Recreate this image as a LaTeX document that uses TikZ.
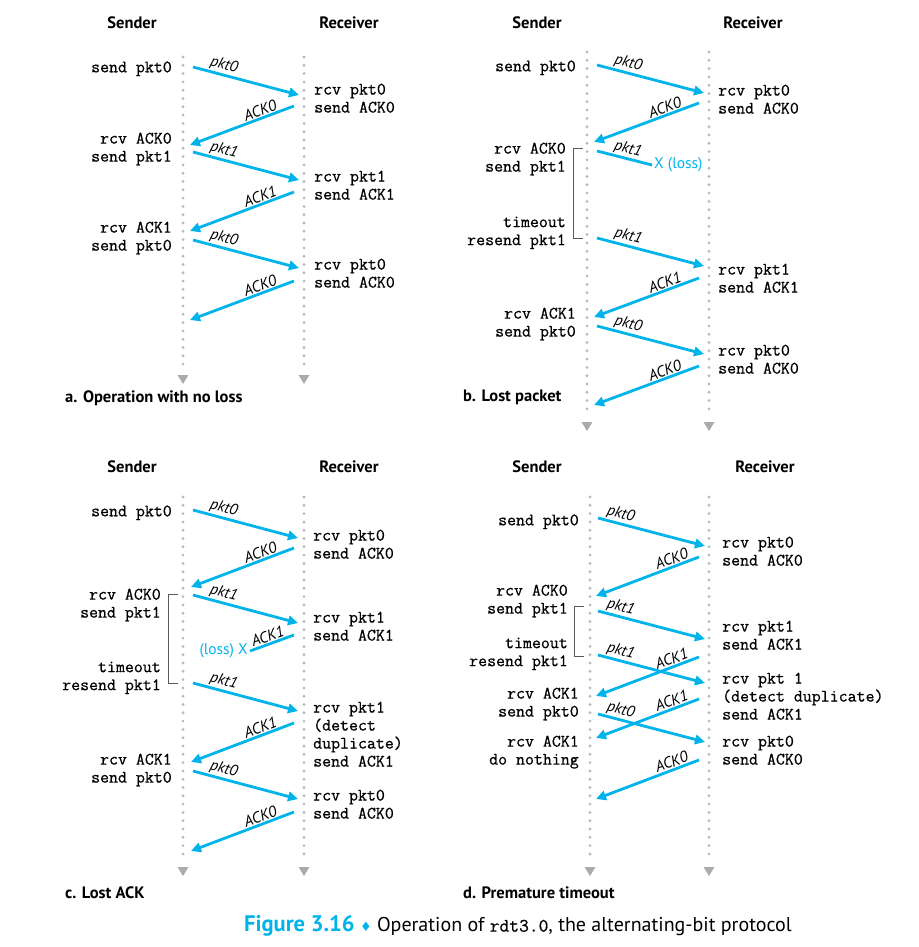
\documentclass[tikz,border=0pt]{standalone}
\usepackage{fontspec}
\setsansfont{PT Sans}
\newfontfamily\symfont{DejaVu Sans}
\newfontfamily\monofam{Latin Modern Mono}[FakeBold=0.7]
\usetikzlibrary{arrows.meta}

\definecolor{pktblue}{RGB}{0,180,235}
\definecolor{lifegray}{RGB}{185,187,190}
\definecolor{tipgray}{RGB}{168,172,175}
\definecolor{brkgray}{RGB}{90,90,90}
\newcommand\monof{\monofam\fontsize{17.4}{18}\selectfont}

\tikzset{
  life/.style={draw=lifegray, line width=3.2pt, line cap=round, dash pattern=on 0pt off 8.3pt},
  lifetip/.style={fill=tipgray},
  msg/.style={draw=pktblue, line width=2.8pt, -{Triangle[length=10pt,width=9.5pt]}},
  lostmsg/.style={draw=pktblue, line width=2.8pt},
  lbl/.style={font=\sffamily\itshape\fontsize{15.5}{17}\selectfont, sloped, above, inner sep=1pt},
  lt/.style={anchor=north east, align=right, font=\monof, inner sep=0pt, yshift=-2.5pt,
    execute at begin node=\strut, execute at end node=\strut},
  rt/.style={anchor=north west, align=left, font=\monof, inner sep=0pt, yshift=-2.5pt,
    execute at begin node=\strut, execute at end node=\strut},
  hdr/.style={font=\sffamily\bfseries\fontsize{16.5}{18}\selectfont},
  capt/.style={anchor=west, inner sep=0pt, font=\sffamily\bfseries\fontsize{16.5}{18}\selectfont},
  brk/.style={draw=brkgray, line width=1pt},
  loss/.style={text=pktblue, font=\sffamily\fontsize{15.5}{17}\selectfont, inner sep=2pt},
}

\begin{document}
\begin{tikzpicture}[x=1pt,y=-1pt]
\useasboundingbox (0,0) rectangle (918,947);

% a. no loss
\coordinate (aS) at (183,57); \coordinate (aSe) at (183,370);
\coordinate (aR) at (304,57); \coordinate (aRe) at (304,370);
\draw[life] (aS) -- (aSe);
\draw[life] (aR) -- (aRe);
\node[hdr] (a-snd) at (132,23) {Sender};
\node[hdr] (a-rcv) at (349,23) {Receiver};
\foreach \y/\t [count=\i] in {67/pkt0,152/pkt1,240/pkt0}{
  \coordinate (a-p\i) at (193,\y);
  \coordinate (a-q\i) at (299,{\y+28});
  \draw[msg] (a-p\i) -- (a-q\i) node[lbl,pos=0.27] (a-pl\i) {\t};
}
\foreach \y/\t [count=\i] in {106/ACK0,192/ACK1,281/ACK0}{
  \coordinate (a-r\i) at (294,\y);
  \coordinate (a-s\i) at (190,{\y+39});
  \draw[msg] (a-r\i) -- (a-s\i) node[lbl,pos=0.3] (a-al\i) {\t};
}
\node[lt] (a-l1) at (172,57) {send pkt0};
\node[lt] (a-l2) at (172,130) {rcv ACK0\\send pkt1};
\node[lt] (a-l3) at (172,219) {rcv ACK1\\send pkt0};
\node[rt] (a-r1) at (314,81) {rcv pkt0\\send ACK0};
\node[rt] (a-r2) at (314,168) {rcv pkt1\\send ACK1};
\node[rt] (a-r3) at (314,256) {rcv pkt0\\send ACK0};
\node[capt] (a-cap) at (65,398) {a. Operation with no loss};

% b. lost packet
\coordinate (bS) at (587,52); \coordinate (bSe) at (587,417);
\coordinate (bR) at (709,52); \coordinate (bRe) at (709,417);
\draw[life] (bS) -- (bSe);
\draw[life] (bR) -- (bRe);
\node[hdr] (b-snd) at (537,23) {Sender};
\node[hdr] (b-rcv) at (753,23) {Receiver};
\foreach \y/\t [count=\i] in {65/pkt0,238/pkt1,326/pkt0}{
  \coordinate (b-p\i) at (597,\y);
  \coordinate (b-q\i) at (704,{\y+28});
  \draw[msg] (b-p\i) -- (b-q\i) node[lbl,pos=0.27] (b-pl\i) {\t};
}
\foreach \y/\t [count=\i] in {103/ACK0,278/ACK1,366/ACK0}{
  \coordinate (b-r\i) at (699,\y);
  \coordinate (b-s\i) at (594,{\y+39});
  \draw[msg] (b-r\i) -- (b-s\i) node[lbl,pos=0.3] (b-al\i) {\t};
}
\coordinate (b-lost) at (597,151);
\node[loss,anchor=west] (b-x) at (652,165) {X (loss)};
\draw[lostmsg] (b-lost) -- (b-x.west) node[lbl,pos=0.52] (b-xl) {pkt1};
\node[lt] (b-l1) at (576,56) {send pkt0};
\node[lt] (b-l2) at (566,140) {rcv ACK0\\send pkt1};
\node[lt] (b-l3) at (566,214) {timeout\\resend pkt1};
\node[lt] (b-l4) at (576,305) {rcv ACK1\\send pkt0};
\coordinate (b-bt) at (583,148); \coordinate (b-bb) at (583,238);
\draw[brk] (b-bt) -- ++(-10,0) |- (b-bb);
\node[rt] (b-r1) at (718,82) {rcv pkt0\\send ACK0};
\node[rt] (b-r2) at (718,261) {rcv pkt1\\send ACK1};
\node[rt] (b-r3) at (718,342) {rcv pkt0\\send ACK0};
\node[capt] (b-cap) at (463,397) {b. Lost packet};

% c. lost ACK
\coordinate (cS) at (183,497); \coordinate (cSe) at (183,862);
\coordinate (cR) at (304,497); \coordinate (cRe) at (304,862);
\draw[life] (cS) -- (cSe);
\draw[life] (cR) -- (cRe);
\node[hdr] (c-snd) at (132,467) {Sender};
\node[hdr] (c-rcv) at (349,467) {Receiver};
\foreach \y/\t [count=\i] in {510/pkt0,595/pkt1,683/pkt1,771/pkt0}{
  \coordinate (c-p\i) at (193,\y);
  \coordinate (c-q\i) at (298,{\y+28});
  \draw[msg] (c-p\i) -- (c-q\i) node[lbl,pos=0.27] (c-pl\i) {\t};
}
\foreach \y/\t [count=\i] in {548/ACK0,723/ACK1,812/ACK0}{
  \coordinate (c-r\i) at (294,\y);
  \coordinate (c-s\i) at (191,{\y+39});
  \draw[msg] (c-r\i) -- (c-s\i) node[lbl,pos=0.3] (c-al\i) {\t};
}
\coordinate (c-lost) at (294,635);
\node[loss,anchor=east] (c-x) at (250,651) {(loss) X};
\draw[lostmsg] (c-lost) -- (c-x.east) node[lbl,pos=0.54] (c-xl) {ACK1};
\node[lt] (c-l1) at (172,501) {send pkt0};
\node[lt] (c-l2) at (161,586) {rcv ACK0\\send pkt1};
\node[lt] (c-l3) at (161,659) {timeout\\resend pkt1};
\node[lt] (c-l4) at (172,751) {rcv ACK1\\send pkt0};
\coordinate (c-bt) at (178,594); \coordinate (c-bb) at (178,683);
\draw[brk] (c-bt) -- ++(-10,0) |- (c-bb);
\node[rt] (c-r1) at (313,527) {rcv pkt0\\send ACK0};
\node[rt] (c-r2) at (313,609) {rcv pkt1\\send ACK1};
\node[rt] (c-r3) at (313,699) {rcv pkt1\\(detect\\duplicate)\\send ACK1};
\node[rt] (c-r4) at (313,787) {rcv pkt0\\send ACK0};
\node[capt] (c-cap) at (65,893) {c. Lost ACK};

% d. premature timeout
\coordinate (dS) at (590,497); \coordinate (dSe) at (590,862);
\coordinate (dR) at (709,497); \coordinate (dRe) at (709,862);
\draw[life] (dS) -- (dSe);
\draw[life] (dR) -- (dRe);
\node[hdr] (d-snd) at (537,467) {Sender};
\node[hdr] (d-rcv) at (765,467) {Receiver};
\foreach \y/\t [count=\i] in {518/pkt0,611/pkt1,655/pkt1,714/pkt0}{
  \coordinate (d-p\i) at (598,\y);
  \coordinate (d-q\i) at (705,{\y+28});
  \draw[msg] (d-p\i) -- (d-q\i) node[lbl,pos=0.19] (d-pl\i) {\t};
}
\foreach \y/\t [count=\i] in {557/ACK0,657/ACK1,699/ACK1,760/ACK0}{
  \coordinate (d-r\i) at (699,\y);
  \coordinate (d-s\i) at (596,{\y+39});
  \draw[msg] (d-r\i) -- (d-s\i) node[lbl,pos=0.24] (d-al\i) {\t};
}
\node[lt] (d-l1) at (579,510) {send pkt0};
\node[lt] (d-l2) at (568,582) {rcv ACK0\\send pkt1};
\node[lt] (d-l3) at (568,635) {timeout\\resend pkt1};
\node[lt] (d-l4) at (579,685) {rcv ACK1\\send pkt0};
\node[lt] (d-l5) at (579,733) {rcv ACK1\\do nothing};
\coordinate (d-bt) at (584,606); \coordinate (d-bb) at (584,656);
\draw[brk] (d-bt) -- ++(-10,0) |- (d-bb);
\node[rt] (d-r1) at (722,534) {rcv pkt0\\send ACK0};
\node[rt] (d-r2) at (722,618) {rcv pkt1\\send ACK1};
\node[rt] (d-r3) at (722,670) {rcv pkt 1\\(detect duplicate)\\send ACK1};
\node[rt] (d-r4) at (722,733) {rcv pkt0\\send ACK0};
\node[capt] (d-cap) at (463,893) {d. Premature timeout};

% lifeline ends
\foreach \c in {aSe,aRe,bSe,bRe,cSe,cRe,dSe,dRe}
  \fill[lifetip] (\c) ++(-5.5,5) -- ++(11,0) -- ++(-5.5,9) -- cycle;

\node[anchor=west, inner sep=0pt, font=\sffamily\fontsize{20}{22}\selectfont] (fig) at (244,926)
  {\textcolor{pktblue}{\fontsize{22.5}{22}\selectfont\bfseries Figure 3.16} \textcolor{pktblue}{\symfont\fontsize{13}{14}\selectfont ♦} Operation of {\monofam\fontsize{19}{22}\selectfont rdt3.0}, the alternating-bit protocol};
\end{tikzpicture}
\end{document}
